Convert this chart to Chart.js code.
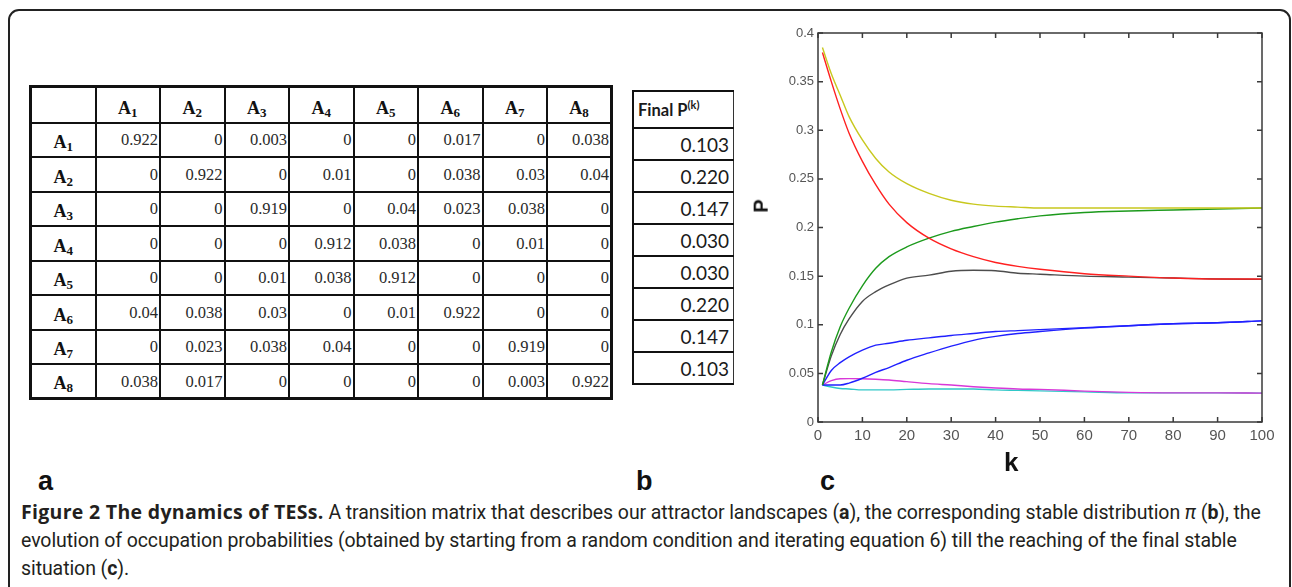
<!DOCTYPE html>
<html>
<head>
<meta charset="utf-8">
<script src="https://cdn.jsdelivr.net/npm/chart.js@4.4.1/dist/chart.umd.min.js"></script>
<style>
  html, body { margin:0; padding:0; background:#fff; }
  #page { position:relative; width:1292px; height:587px; overflow:hidden; background:#fff; }
  #frame { position:absolute; left:8px; top:9px; width:1283px; height:640px; border:2px solid #222; border-radius:11px; box-sizing:border-box; }
  table { border-collapse:collapse; position:absolute; }
  #tabA { left:29px; top:85px; font-family:"Liberation Serif", "Times New Roman", serif; color:#2a2a2a; border:3px solid #111; }
  #tabA td, #tabA th { border:2px solid #111; padding:0; box-sizing:border-box; }
  #tabA th { font-weight:bold; font-size:18px; text-align:center; vertical-align:bottom; padding-bottom:3px; color:#111; }
  #tabA td { font-size:16.5px; text-align:right; vertical-align:middle; padding-right:1px; padding-top:1px; }
  #tabA tr.hdr th { height:36px; }
  #tabA tr.row td, #tabA tr.row th { height:34.5px; }
  #tabA th sub { font-size:13px; vertical-align:-3px; line-height:0; }
  #tabB { left:632px; top:90px; width:102px; font-family:Lato, "Open Sans", sans-serif; color:#1a1a1a; }
  #tabB td { border-top:2px solid #111; border-bottom:2px solid #111; border-left:2px solid #111; border-right:1px solid #333; text-align:right; padding:0 4px 0 0; font-size:19px; height:32px; box-sizing:border-box; }
  #tabB td.h { font-weight:bold; font-size:16.5px; text-align:left; padding-left:4px; height:37px; }
  #tabB td.h sup { font-size:11px; vertical-align:7px; line-height:0; }
  .plab { position:absolute; font-family:"Liberation Sans", Arial, sans-serif; font-weight:bold; font-size:27px; color:#111; line-height:1; }
  #chartBox { position:absolute; left:740px; top:0px; width:552px; height:490px; }
  .axt { position:absolute; font-family:"Liberation Sans", Arial, sans-serif; font-weight:bold; color:#111; line-height:1; }
  #caption { position:absolute; left:21px; top:498px; width:1265px; font-family:Roboto, "Open Sans", sans-serif; font-size:19.5px; line-height:28px; color:#231f20; letter-spacing:-0.08px; }
  #caption .ln { white-space:nowrap; }
  #caption .ttl { font-family:"Open Sans", Roboto, sans-serif; font-weight:bold; letter-spacing:0.3px; }
</style>
</head>
<body>
<div id="page">
  <div id="frame"></div>

  <table id="tabA"></table>
  <table id="tabB"></table>

  <div class="plab" style="left:38px; top:468px;">a</div>
  <div class="plab" style="left:636px; top:468px;">b</div>
  <div class="plab" style="left:820px; top:468px;">c</div>

  <div id="chartBox"><canvas id="c"></canvas></div>
  <div class="axt" id="pLabel" style="left:754px; top:196px; font-size:20px; transform:rotate(-90deg); transform-origin:center;">P</div>
  <div class="axt" id="kLabel" style="left:1004px; top:449px; font-size:26px;">k</div>

  <div id="caption">
    <div class="ln"><span class="ttl">Figure 2 The dynamics of TESs.</span> A transition matrix that describes our attractor landscapes (<b>a</b>), the corresponding stable distribution <i>π</i> (<b>b</b>), the</div>
    <div class="ln">evolution of occupation probabilities (obtained by starting from a random condition and iterating equation 6) till the reaching of the final stable</div>
    <div class="ln">situation (<b>c</b>).</div>
  </div>
</div>

<script>
// ---------- Data ----------
const stateNames = ["A1","A2","A3","A4","A5","A6","A7","A8"];
const rowA1 = ["0.922","0","0.003","0","0","0.017","0","0.038"];
const rowA2 = ["0","0.922","0","0.01","0","0.038","0.03","0.04"];
const rowA3 = ["0","0","0.919","0","0.04","0.023","0.038","0"];
const rowA4 = ["0","0","0","0.912","0.038","0","0.01","0"];
const rowA5 = ["0","0","0.01","0.038","0.912","0","0","0"];
const rowA6 = ["0.04","0.038","0.03","0","0.01","0.922","0","0"];
const rowA7 = ["0","0.023","0.038","0.04","0","0","0.919","0"];
const rowA8 = ["0.038","0.017","0","0","0","0","0.003","0.922"];
const finalP = ["0.103","0.220","0.147","0.030","0.030","0.220","0.147","0.103"];

const kSteps   = [1, 3, 5, 7, 10, 13, 16, 20, 25, 30, 35, 40, 45, 50, 60, 70, 80, 90, 100];
const pYellow  = [0.385, 0.358, 0.336, 0.314, 0.290, 0.271, 0.257, 0.245, 0.235, 0.228, 0.224, 0.222, 0.221, 0.220, 0.220, 0.220, 0.220, 0.220, 0.220];
const pRed     = [0.380, 0.350, 0.322, 0.297, 0.268, 0.244, 0.224, 0.205, 0.189, 0.178, 0.170, 0.164, 0.160, 0.157, 0.1525, 0.150, 0.148, 0.147, 0.147];
const pGreen   = [0.038, 0.072, 0.098, 0.117, 0.140, 0.158, 0.170, 0.180, 0.189, 0.196, 0.201, 0.2055, 0.209, 0.212, 0.2155, 0.217, 0.218, 0.219, 0.220];
const pGray    = [0.038, 0.068, 0.090, 0.106, 0.124, 0.134, 0.141, 0.148, 0.151, 0.155, 0.156, 0.1555, 0.153, 0.152, 0.150, 0.149, 0.148, 0.147, 0.1467];
const pBlueA   = [0.038, 0.053, 0.061, 0.067, 0.074, 0.079, 0.081, 0.084, 0.0865, 0.089, 0.091, 0.093, 0.094, 0.095, 0.097, 0.099, 0.101, 0.102, 0.104];
const pBlueB   = [0.038, 0.038, 0.038, 0.040, 0.045, 0.051, 0.056, 0.0635, 0.071, 0.078, 0.084, 0.088, 0.091, 0.093, 0.0965, 0.099, 0.101, 0.102, 0.104];
const pMagenta = [0.038, 0.0425, 0.0445, 0.0446, 0.0445, 0.044, 0.0432, 0.0415, 0.0395, 0.038, 0.0363, 0.035, 0.034, 0.0335, 0.0318, 0.0305, 0.030, 0.030, 0.0297];
const pCyan    = [0.038, 0.036, 0.0345, 0.034, 0.033, 0.033, 0.033, 0.0335, 0.034, 0.034, 0.034, 0.033, 0.0325, 0.032, 0.031, 0.030, 0.030, 0.030, 0.0297];

const xTicks = [0,10,20,30,40,50,60,70,80,90,100];
const yTicks = [0,0.05,0.1,0.15,0.2,0.25,0.3,0.35,0.4];

// ---------- Tables ----------
function sub(name){ return name.replace(/A(\d)/, "A<sub>$1</sub>"); }
const rows = [rowA1,rowA2,rowA3,rowA4,rowA5,rowA6,rowA7,rowA8];
let h = '<colgroup><col style="width:65px">' + stateNames.map(()=>'<col style="width:64.5px">').join('') + '</colgroup>';
h += '<tr class="hdr"><th></th>' + stateNames.map(n=>'<th>'+sub(n)+'</th>').join('') + '</tr>';
rows.forEach((r,i)=>{
  h += '<tr class="row"><th>'+sub(stateNames[i])+'</th>' + r.map(v=>'<td>'+v+'</td>').join('') + '</tr>';
});
document.getElementById('tabA').innerHTML = h;

let hb = '<tr><td class="h">Final P<sup>(k)</sup></td></tr>';
finalP.forEach(v=>{ hb += '<tr><td>'+v+'</td></tr>'; });
document.getElementById('tabB').innerHTML = hb;

// ---------- Chart ----------
function pts(arr){ return kSteps.map((k,i)=>({x:k, y:arr[i]})); }
const series = [
  {label:'yellow',  data:pYellow,  color:'#c8c81e'},
  {label:'red',     data:pRed,     color:'#ff2020'},
  {label:'green',   data:pGreen,   color:'#1c9a1c'},
  {label:'gray',    data:pGray,    color:'#4d4d4d'},
  {label:'blueA',   data:pBlueA,   color:'#2020ff'},
  {label:'blueB',   data:pBlueB,   color:'#2020ff'},
  {label:'magenta', data:pMagenta, color:'#d838d8'},
  {label:'cyan',    data:pCyan,    color:'#30c8c8'}
];

const boxTicks = {
  id:'boxTicks',
  afterDraw(chart){
    const {ctx, chartArea:{left,right,top,bottom}, scales:{x,y}} = chart;
    ctx.save();
    ctx.strokeStyle = '#3a3a3a';
    ctx.lineWidth = 1.5;
    ctx.strokeRect(left, top, right-left, bottom-top);
    ctx.beginPath();
    x.ticks.forEach(t=>{
      const px = x.getPixelForValue(t.value);
      ctx.moveTo(px, bottom); ctx.lineTo(px, bottom-5);
      ctx.moveTo(px, top); ctx.lineTo(px, top+5);
    });
    y.ticks.forEach(t=>{
      const py = y.getPixelForValue(t.value);
      ctx.moveTo(left, py); ctx.lineTo(left+5, py);
      ctx.moveTo(right, py); ctx.lineTo(right-5, py);
    });
    ctx.stroke();
    ctx.restore();
  }
};

new Chart(document.getElementById('c'), {
  type:'line',
  data:{
    datasets: series.map(s=>({
      label:s.label, data:pts(s.data), borderColor:s.color, backgroundColor:s.color,
      borderWidth:1.4, pointRadius:0, fill:false, cubicInterpolationMode:'monotone'
    }))
  },
  options:{
    responsive:true, maintainAspectRatio:false, animation:false,
    layout:{ padding:{ left:0, right:30, top:33, bottom:38 } },
    plugins:{ legend:{display:false}, tooltip:{enabled:false} },
    scales:{
      x:{
        type:'linear', min:0, max:100,
        afterBuildTicks(s){ s.ticks = xTicks.map(v=>({value:v})); },
        afterFit(s){ s.height = 30; },
        grid:{ display:false, drawTicks:false }, border:{ display:false },
        ticks:{ padding:5, color:'#555', font:{ family:'"Liberation Sans", Arial, sans-serif', size:15 },
                callback:v=>String(v), maxRotation:0, autoSkip:false }
      },
      y:{
        type:'linear', min:0, max:0.4,
        afterBuildTicks(s){ s.ticks = yTicks.map(v=>({value:v})); },
        afterFit(s){ s.width = 78; },
        grid:{ display:false, drawTicks:false }, border:{ display:false },
        ticks:{ padding:4, color:'#555', font:{ family:'"Liberation Sans", Arial, sans-serif', size:13 },
                callback:v=>String(+Number(v).toFixed(2)), autoSkip:false }
      }
    }
  },
  plugins:[boxTicks]
});
</script>
</body>
</html>
